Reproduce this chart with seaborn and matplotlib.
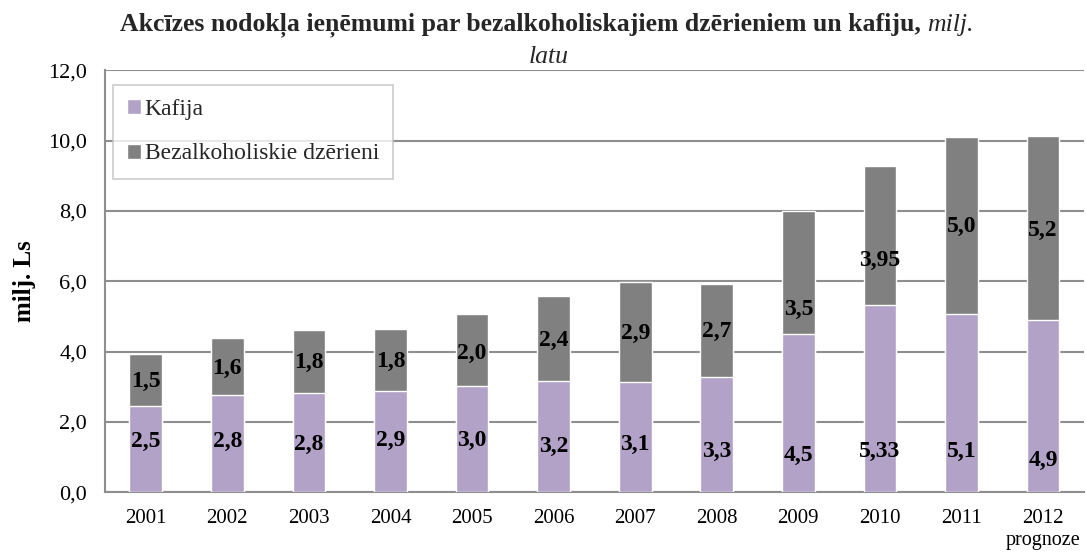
import matplotlib
matplotlib.use("Agg")
import matplotlib.pyplot as plt
from matplotlib.patches import Patch
from matplotlib.ticker import FuncFormatter, FixedLocator
import seaborn as sns

# data
years = ["2001", "2002", "2003", "2004", "2005", "2006",
         "2007", "2008", "2009", "2010", "2011", "2012"]
kafija = [2.45, 2.76, 2.83, 2.87, 3.02, 3.17, 3.14, 3.28, 4.50, 5.32, 5.07, 4.90]
bezalk = [1.48, 1.62, 1.80, 1.78, 2.05, 2.40, 2.85, 2.64, 3.50, 3.96, 5.02, 5.22]
kafija_labels = ["2,5", "2,8", "2,8", "2,9", "3,0", "3,2", "3,1", "3,3", "4,5", "5,33", "5,1", "4,9"]
bezalk_labels = ["1,5", "1,6", "1,8", "1,8", "2,0", "2,4", "2,9", "2,7", "3,5", "3,95", "5,0", "5,2"]
# where the labels sit in the original (hand placed there, not centred)
kafija_label_y = [1.44, 1.44, 1.37, 1.49, 1.49, 1.30, 1.35, 1.16, 1.06, 1.16, 1.16, 0.92]
bezalk_label_y = [3.14, 3.52, 3.70, 3.71, 3.95, 4.31, 4.52, 4.57, 5.20, 6.60, 7.56, 7.46]
totals = [k + b for k, b in zip(kafija, bezalk)]

purple = "#B3A2C7"
grey = "#808080"
line_grey = "#8E8E8E"

sns.set_style("white")
plt.rcParams["font.family"] = ["Liberation Serif", "DejaVu Serif"]

fig = plt.figure(figsize=(10.86, 5.53), dpi=100)
ax = fig.add_axes([0.0967, 0.1096, 0.9013, 0.7633])

# stacked bars: totals first (grey), then kafija over them
sns.barplot(x=years, y=totals, color=grey, saturation=1, width=0.4, ax=ax, zorder=2)
sns.barplot(x=years, y=kafija, color=purple, saturation=1, width=0.4, ax=ax, zorder=3)

for i in range(len(years)):
    ax.text(i, kafija_label_y[i], kafija_labels[i], ha="center", va="center",
            fontsize=17, fontweight="bold", color="black", zorder=5)
    ax.text(i, bezalk_label_y[i], bezalk_labels[i], ha="center", va="center",
            fontsize=17, fontweight="bold", color="black", zorder=5)

ax.set_xlim(-0.5, len(years) - 0.5)
ax.set_ylim(0, 12)
ax.set_yticks([0, 2, 4, 6, 8, 10, 12])
ax.yaxis.set_major_formatter(FuncFormatter(lambda v, p: f"{v:.1f}".replace(".", ",")))
ax.yaxis.grid(True, color=line_grey, linewidth=1.5)
ax.set_axisbelow(True)

for s in ["top", "right"]:
    ax.spines[s].set_visible(False)
for s in ["left", "bottom"]:
    ax.spines[s].set_color(line_grey)
    ax.spines[s].set_linewidth(1.5)

ax.tick_params(axis="x", which="major", length=0, pad=12, labelsize=15, labelcolor="black")
ax.xaxis.set_minor_locator(FixedLocator([i - 0.5 for i in range(len(years) + 1)]))
ax.tick_params(axis="x", which="minor", length=7, width=1.5, color=line_grey, direction="out")
ax.tick_params(axis="y", length=7, width=1.5, color=line_grey, direction="out", pad=6,
               labelsize=16, labelcolor="black")
ax.set_xlabel("")
ax.set_ylabel("milj. Ls", fontsize=18, fontweight="bold", labelpad=9, color="black")

ax.text(11, -0.115, "prognoze", transform=ax.get_xaxis_transform(), ha="center", va="center",
        fontsize=14.5, color="black")

handles = [Patch(facecolor=purple, label="Kafija"),
           Patch(facecolor=grey, label="Bezalkoholiskie dzērieni")]
leg = ax.legend(handles=handles, loc="upper left", bbox_to_anchor=(0.008, 0.966),
                frameon=True, fancybox=False, fontsize=17, handlelength=0.6,
                handleheight=0.6, handletextpad=0.15, labelspacing=1.0,
                borderpad=0.6, borderaxespad=0)
leg.get_frame().set_edgecolor("#BFBFBF")
leg.get_frame().set_linewidth(1.2)

# title: bold part + italic unit, wrapped like the original
t1 = fig.text(0, 0.955, "Akcīzes nodokļa ieņēmumi par bezalkoholiskajiem dzērieniem un kafiju, ",
              fontsize=18.5, fontweight="bold", ha="left", va="center")
t2 = fig.text(0, 0.955, "milj.", fontsize=18.5, fontstyle="italic", ha="left", va="center")
fig.text(0.505, 0.897, "latu", fontsize=18.5, fontstyle="italic", ha="center", va="center")
fig.canvas.draw()
r = fig.canvas.get_renderer()
w1 = t1.get_window_extent(r).width
w2 = t2.get_window_extent(r).width
x0 = (547 - (w1 + w2) / 2) / 1086
t1.set_x(x0)
t2.set_x(x0 + w1 / 1086)

fig.savefig("out.png", dpi=100)
